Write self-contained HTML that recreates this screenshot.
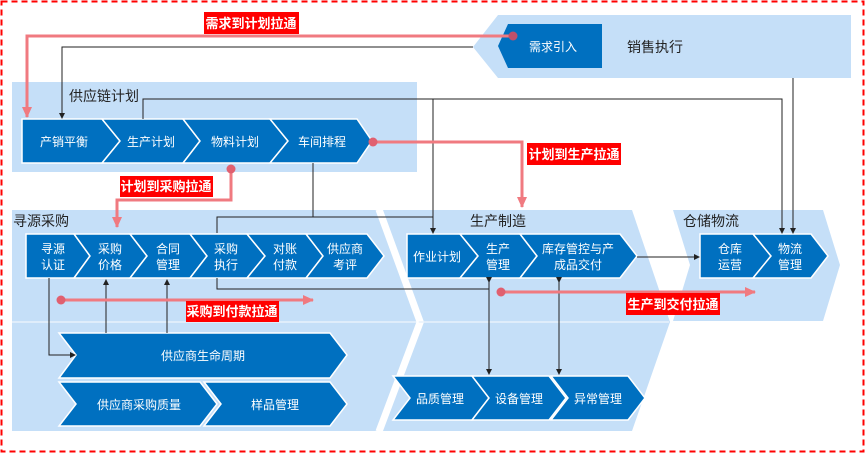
<!DOCTYPE html>
<html><head><meta charset="utf-8"><style>
html,body{margin:0;padding:0;background:#fff;}
svg{display:block;font-family:"Liberation Sans","Noto Sans CJK SC",sans-serif;}
.c{fill:#0070c0;stroke:#fff;stroke-width:1.5;}
.t{fill:#fff;font-size:12px;text-anchor:middle;}
.h{fill:#222;font-size:14px;}
.k{stroke:#222;stroke-width:1;fill:none;}
.p{stroke:#f07a80;stroke-width:3;fill:none;}
.lb{fill:#ff0000;}
.lt{fill:#fff;font-size:13px;font-weight:bold;text-anchor:middle;}
</style></head><body>
<svg width="866" height="454" viewBox="0 0 866 454">
<defs>
<marker id="a" markerWidth="6" markerHeight="6" refX="5" refY="3" orient="auto" markerUnits="userSpaceOnUse"><path d="M0,0L6,3L0,6z" fill="#222"/></marker>
<marker id="pa" markerWidth="12" markerHeight="12" refX="10" refY="6" orient="auto" markerUnits="userSpaceOnUse"><path d="M0,1L11,6L0,11z" fill="#f07a80"/></marker>
</defs>
<rect x="1.5" y="1.5" width="862" height="450" fill="none" stroke="#ff0000" stroke-width="2" stroke-dasharray="6,4"/>

<!-- bands -->
<polygon points="498,15 851,15 851,78 498,78 473,47" fill="#c5dff8"/>
<rect x="12" y="82" width="405" height="90" fill="#c5dff8"/>
<polygon points="12,210 377,210 418,322 377,431 12,431" fill="#c5dff8"/>
<polygon points="383,210 632,210 670,322 632,431 383,431 424,322" fill="#c5dff8"/>
<polygon points="673,210 823,210 840,265 823,321 673,321 690,265" fill="#c5dff8"/>
<line x1="12" y1="322" x2="669" y2="322" stroke="#e8f2fc" stroke-width="1.5"/>
<line x1="377" y1="210" x2="418" y2="322" stroke="#fff" stroke-width="3"/>
<line x1="418" y1="322" x2="377" y2="431" stroke="#fff" stroke-width="3"/>

<text class="h" x="627" y="52">销售执行</text>
<text class="h" x="69" y="101">供应链计划</text>
<text class="h" x="13" y="226">寻源采购</text>
<text class="h" x="470" y="226">生产制造</text>
<text class="h" x="683" y="226">仓储物流</text>

<!-- 需求引入 -->
<polygon points="508,24 602,24 602,68 508,68 498,46" fill="#0070c0"/>
<text class="t" x="553" y="51">需求引入</text>

<!-- supply chain chevrons y119-163 -->
<polygon class="c" points="22,119 102,119 120,141 102,163 22,163"/>
<polygon class="c" points="102,119 183,119 200,141 183,163 102,163 120,141"/>
<polygon class="c" points="183,119 270,119 288,141 270,163 183,163 200,141"/>
<polygon class="c" points="270,119 357,119 372,141 357,163 270,163 288,141"/>
<text class="t" x="64" y="146">产销平衡</text>
<text class="t" x="151" y="146">生产计划</text>
<text class="t" x="235" y="146">物料计划</text>
<text class="t" x="322" y="146">车间排程</text>

<!-- sourcing chevrons y234-278 -->
<polygon class="c" points="26,234 74,234 90,256 74,278 26,278"/>
<polygon class="c" points="74,234 130,234 147,256 130,278 74,278 90,256"/>
<polygon class="c" points="130,234 190,234 207,256 190,278 130,278 147,256"/>
<polygon class="c" points="190,234 247,234 265,256 247,278 190,278 207,256"/>
<polygon class="c" points="247,234 306,234 323,256 306,278 247,278 265,256"/>
<polygon class="c" points="306,234 367,234 384,256 367,278 306,278 323,256"/>
<text class="t" x="53" y="253">寻源</text><text class="t" x="53" y="269">认证</text>
<text class="t" x="110" y="253">采购</text><text class="t" x="110" y="269">价格</text>
<text class="t" x="168" y="253">合同</text><text class="t" x="168" y="269">管理</text>
<text class="t" x="226" y="253">采购</text><text class="t" x="226" y="269">执行</text>
<text class="t" x="285" y="253">对账</text><text class="t" x="285" y="269">付款</text>
<text class="t" x="345" y="253">供应商</text><text class="t" x="345" y="269">考评</text>

<polygon class="c" points="59,333 330,333 347,355 330,378 59,378 76,355"/>
<text class="t" x="203" y="360">供应商生命周期</text>
<polygon class="c" points="59,382 200,382 217,404 200,426 59,426 76,404"/>
<polygon class="c" points="204,382 330,382 347,404 330,426 204,426 221,404"/>
<text class="t" x="139" y="409">供应商采购质量</text>
<text class="t" x="275" y="409">样品管理</text>

<!-- production -->
<polygon class="c" points="407,234 460,234 478,256 460,278 407,278"/>
<polygon class="c" points="460,234 520,234 537,256 520,278 460,278 478,256"/>
<polygon class="c" points="520,234 620,234 637,256 620,278 520,278 537,256"/>
<text class="t" x="437" y="261">作业计划</text>
<text class="t" x="498" y="253">生产</text><text class="t" x="498" y="269">管理</text>
<text class="t" x="578" y="253">库存管控与产</text><text class="t" x="578" y="269">成品交付</text>

<polygon class="c" points="393,376 472,376 489,398 472,420 393,420 410,398"/>
<polygon class="c" points="472,376 549,376 566,398 549,420 472,420 489,398"/>
<polygon class="c" points="551,376 628,376 645,398 628,420 551,420 568,398"/>
<text class="t" x="440" y="403">品质管理</text>
<text class="t" x="519" y="403">设备管理</text>
<text class="t" x="598" y="403">异常管理</text>

<!-- warehouse -->
<polygon class="c" points="700,234 753,234 771,256 753,278 700,278"/>
<polygon class="c" points="753,234 811,234 828,256 811,278 753,278 771,256"/>
<text class="t" x="730" y="253">仓库</text><text class="t" x="730" y="269">运营</text>
<text class="t" x="790" y="253">物流</text><text class="t" x="790" y="269">管理</text>

<!-- black connectors -->
<polyline class="k" points="473,47 62,47 62,118" marker-end="url(#a)"/>
<polyline class="k" points="143,119 143,99 782,99 782,233" marker-end="url(#a)"/>
<polyline class="k" points="433,99 433,233" marker-end="url(#a)"/>
<polyline class="k" points="313,163 313,217 433,217"/>
<polyline class="k" points="217,233 217,217 313,217"/>
<polyline class="k" points="793,78 793,233" marker-end="url(#a)"/>
<polyline class="k" points="217,278 217,289 489,289"/>
<line class="k" x1="489" y1="282" x2="489" y2="374" marker-start="url(#a)" marker-end="url(#a)"/>
<line class="k" x1="559" y1="282" x2="559" y2="374" marker-start="url(#a)" marker-end="url(#a)"/>
<line class="k" x1="637" y1="257" x2="699" y2="257" marker-end="url(#a)"/>
<polyline class="k" points="49,278 49,355 75,355" marker-end="url(#a)"/>
<line class="k" x1="106" y1="333" x2="106" y2="280" marker-end="url(#a)"/>
<line class="k" x1="167" y1="333" x2="167" y2="280" marker-end="url(#a)"/>

<!-- pink pulls -->
<polyline class="p" points="513,36 27,36 27,117" marker-end="url(#pa)"/>
<circle cx="513" cy="36" r="4.5" fill="#c0506a"/>
<polyline class="p" points="373,142 522,142 522,207" marker-end="url(#pa)"/>
<circle cx="373" cy="142" r="4.5" fill="#e06070"/>
<polyline class="p" points="231,169 231,200 117,200 117,227" marker-end="url(#pa)"/>
<circle cx="231" cy="169" r="4.5" fill="#e06070"/>
<line class="p" x1="61" y1="300" x2="313" y2="300" marker-end="url(#pa)"/>
<circle cx="61" cy="300" r="4.5" fill="#e06070"/>
<line class="p" x1="501" y1="292" x2="755" y2="292" marker-end="url(#pa)"/>
<circle cx="501" cy="292" r="4.5" fill="#e06070"/>

<!-- labels -->
<rect class="lb" x="204" y="12" width="95" height="22"/><text class="lt" x="251" y="28">需求到计划拉通</text>
<rect class="lb" x="527" y="143" width="94" height="22"/><text class="lt" x="574" y="159">计划到生产拉通</text>
<rect class="lb" x="120" y="176" width="93" height="21"/><text class="lt" x="166" y="191">计划到采购拉通</text>
<rect class="lb" x="186" y="301" width="93" height="21"/><text class="lt" x="232" y="316">采购到付款拉通</text>
<rect class="lb" x="626" y="293" width="94" height="22"/><text class="lt" x="673" y="309">生产到交付拉通</text>
</svg>
</body></html>
